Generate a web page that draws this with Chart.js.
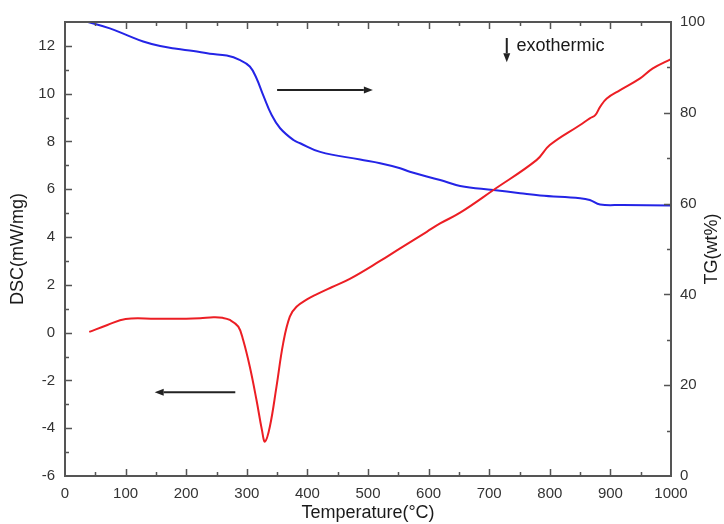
<!DOCTYPE html>
<html>
<head>
<meta charset="utf-8">
<script src="https://cdn.jsdelivr.net/npm/chart.js@4.4.0/dist/chart.umd.min.js"></script>
<style>
  html, body { margin: 0; padding: 0; background: #fff; }
  #wrap { width: 724px; height: 524px; }
</style>
</head>
<body>
<div id="wrap"><canvas id="chart"></canvas></div>
<script>
// DSC curve (left axis, mW/mg)
const tempDSC = [40, 70, 100, 150, 200, 223, 245, 260, 272, 286, 294, 305, 316, 325, 330, 338, 349, 360, 371, 382, 400, 415, 440, 470, 520, 553, 597, 619, 652, 707, 778, 800, 850, 866, 875, 883, 894, 916, 949, 970, 1000];
const dsc = [0.03, 0.32, 0.57, 0.58, 0.58, 0.6, 0.64, 0.62, 0.53, 0.25, -0.31, -1.43, -2.82, -4.08, -4.56, -3.94, -2.26, -0.45, 0.67, 1.08, 1.4, 1.6, 1.9, 2.25, 3.0, 3.53, 4.22, 4.57, 5.02, 5.97, 7.22, 7.85, 8.69, 8.97, 9.1, 9.45, 9.8, 10.15, 10.64, 11.06, 11.45];

// TG curve (right axis, wt%)
const tempTG = [38, 74, 102, 129, 157, 184, 212, 239, 267, 289, 305, 316, 327, 341, 355, 377, 388, 421, 487, 520, 553, 569, 619, 652, 707, 751, 784, 850, 866, 883, 920, 1000];
const tg = [100, 98.6, 97.1, 95.7, 94.7, 94.1, 93.6, 93.0, 92.6, 91.6, 90.2, 87.6, 83.9, 79.5, 76.6, 74.0, 73.3, 71.4, 69.7, 68.9, 67.8, 67.0, 65.2, 63.9, 63.0, 62.3, 61.8, 61.2, 60.8, 59.8, 59.7, 59.6];

// axis ticks
const xTicks = [0, 100, 200, 300, 400, 500, 600, 700, 800, 900, 1000];
const dscTicks = [-6, -4, -2, 0, 2, 4, 6, 8, 10, 12];
const tgTicks = [0, 20, 40, 60, 80, 100];

// arrows in data units (x, DSC)
const arrows = [
  [350, 10.15, 508, 10.15],
  [281, -2.49, 148, -2.49],
  [729, 12.33, 729, 11.32]
];

const FONT = "'Liberation Sans', Arial, sans-serif";
const AXIS = '#555';

function pts(xs, ys) {
  return xs.map((x, i) => ({ x: x, y: ys[i] }));
}

const frame = {
  id: 'frame',
  afterDatasetsDraw(chart) {
    const { ctx, chartArea: a, scales } = chart;
    const x = scales.x, y = scales.y, y2 = scales.y2;
    ctx.save();
    ctx.strokeStyle = AXIS;
    ctx.lineWidth = 2;
    ctx.strokeRect(a.left, a.top, a.right - a.left, a.bottom - a.top);

    ctx.lineWidth = 1.5;
    ctx.beginPath();
    for (let v = 50; v < 1000; v += 50) {
      const px = Math.round(x.getPixelForValue(v)) + 0.5;
      const len = v % 100 === 0 ? 7 : 4;
      ctx.moveTo(px, a.bottom); ctx.lineTo(px, a.bottom - len);
      ctx.moveTo(px, a.top); ctx.lineTo(px, a.top + len);
    }
    for (let v = -5; v <= 12; v++) {
      const py = Math.round(y.getPixelForValue(v)) + 0.5;
      const len = v % 2 === 0 ? 7 : 4;
      ctx.moveTo(a.left, py); ctx.lineTo(a.left + len, py);
    }
    for (let v = 10; v < 100; v += 10) {
      const py = Math.round(y2.getPixelForValue(v)) + 0.5;
      const len = v % 20 === 0 ? 7 : 4;
      ctx.moveTo(a.right, py); ctx.lineTo(a.right - len, py);
    }
    ctx.stroke();

    // arrows
    ctx.strokeStyle = '#222';
    ctx.fillStyle = '#222';
    ctx.lineWidth = 2;
    arrows.forEach(([x1, y1, x2, y2v]) => {
      const sx = x.getPixelForValue(x1), sy = y.getPixelForValue(y1);
      const ex = x.getPixelForValue(x2), ey = y.getPixelForValue(y2v);
      const ang = Math.atan2(ey - sy, ex - sx);
      const hl = 9, hw = 3.5;
      const bx = ex - hl * Math.cos(ang), by = ey - hl * Math.sin(ang);
      ctx.beginPath();
      ctx.moveTo(sx, sy); ctx.lineTo(bx, by);
      ctx.stroke();
      ctx.beginPath();
      ctx.moveTo(ex, ey);
      ctx.lineTo(bx - hw * Math.sin(ang), by + hw * Math.cos(ang));
      ctx.lineTo(bx + hw * Math.sin(ang), by - hw * Math.cos(ang));
      ctx.closePath();
      ctx.fill();
    });

    // labels
    ctx.fillStyle = '#1a1a1a';
    ctx.font = '18px ' + FONT;
    ctx.textBaseline = 'middle';
    ctx.textAlign = 'left';
    ctx.fillText('exothermic', x.getPixelForValue(745), y.getPixelForValue(11.99));

    ctx.textAlign = 'center';
    ctx.fillText('Temperature(\u00B0C)', (a.left + a.right) / 2, 513);

    ctx.save();
    ctx.translate(18, (a.top + a.bottom) / 2);
    ctx.rotate(-Math.PI / 2);
    ctx.fillText('DSC(mW/mg)', 0, 0);
    ctx.restore();

    ctx.save();
    ctx.translate(712, (a.top + a.bottom) / 2);
    ctx.rotate(-Math.PI / 2);
    ctx.fillText('TG(wt%)', 0, 0);
    ctx.restore();
    ctx.restore();
  }
};

function keep(list) {
  return scale => { scale.ticks = list.map(v => ({ value: v })); };
}

const tickFont = { family: FONT, size: 15 };

new Chart(document.getElementById('chart'), {
  type: 'line',
  data: {
    datasets: [
      {
        label: 'DSC',
        data: pts(tempDSC, dsc),
        yAxisID: 'y',
        borderColor: 'rgb(236, 30, 36)',
        borderWidth: 2,
        pointRadius: 0,
        tension: 0.4,
        clip: false
      },
      {
        label: 'TG',
        data: pts(tempTG, tg),
        yAxisID: 'y2',
        borderColor: 'rgb(36, 36, 230)',
        borderWidth: 2,
        pointRadius: 0,
        tension: 0.4,
        clip: false
      }
    ]
  },
  options: {
    responsive: true,
    maintainAspectRatio: false,
    animation: false,
    layout: { padding: { top: 22 } },
    plugins: { legend: { display: false }, tooltip: { enabled: false } },
    scales: {
      x: {
        type: 'linear',
        min: 0, max: 1000,
        afterBuildTicks: keep(xTicks),
        afterFit: s => { s.height = 48; },
        grid: { display: false, drawTicks: false },
        border: { display: false },
        ticks: { color: '#333', font: tickFont, padding: 9, maxRotation: 0, callback: v => String(v) }
      },
      y: {
        position: 'left',
        min: -6, max: 13,
        afterBuildTicks: keep(dscTicks),
        afterFit: s => { s.width = 65; },
        grid: { display: false, drawTicks: false },
        border: { display: false },
        ticks: { color: '#333', font: tickFont, padding: 10 }
      },
      y2: {
        position: 'right',
        min: 0, max: 100,
        afterBuildTicks: keep(tgTicks),
        afterFit: s => { s.width = 53; },
        grid: { display: false, drawTicks: false },
        border: { display: false },
        ticks: { color: '#333', font: tickFont, padding: 9 }
      }
    }
  },
  plugins: [frame]
});
</script>
</body>
</html>
